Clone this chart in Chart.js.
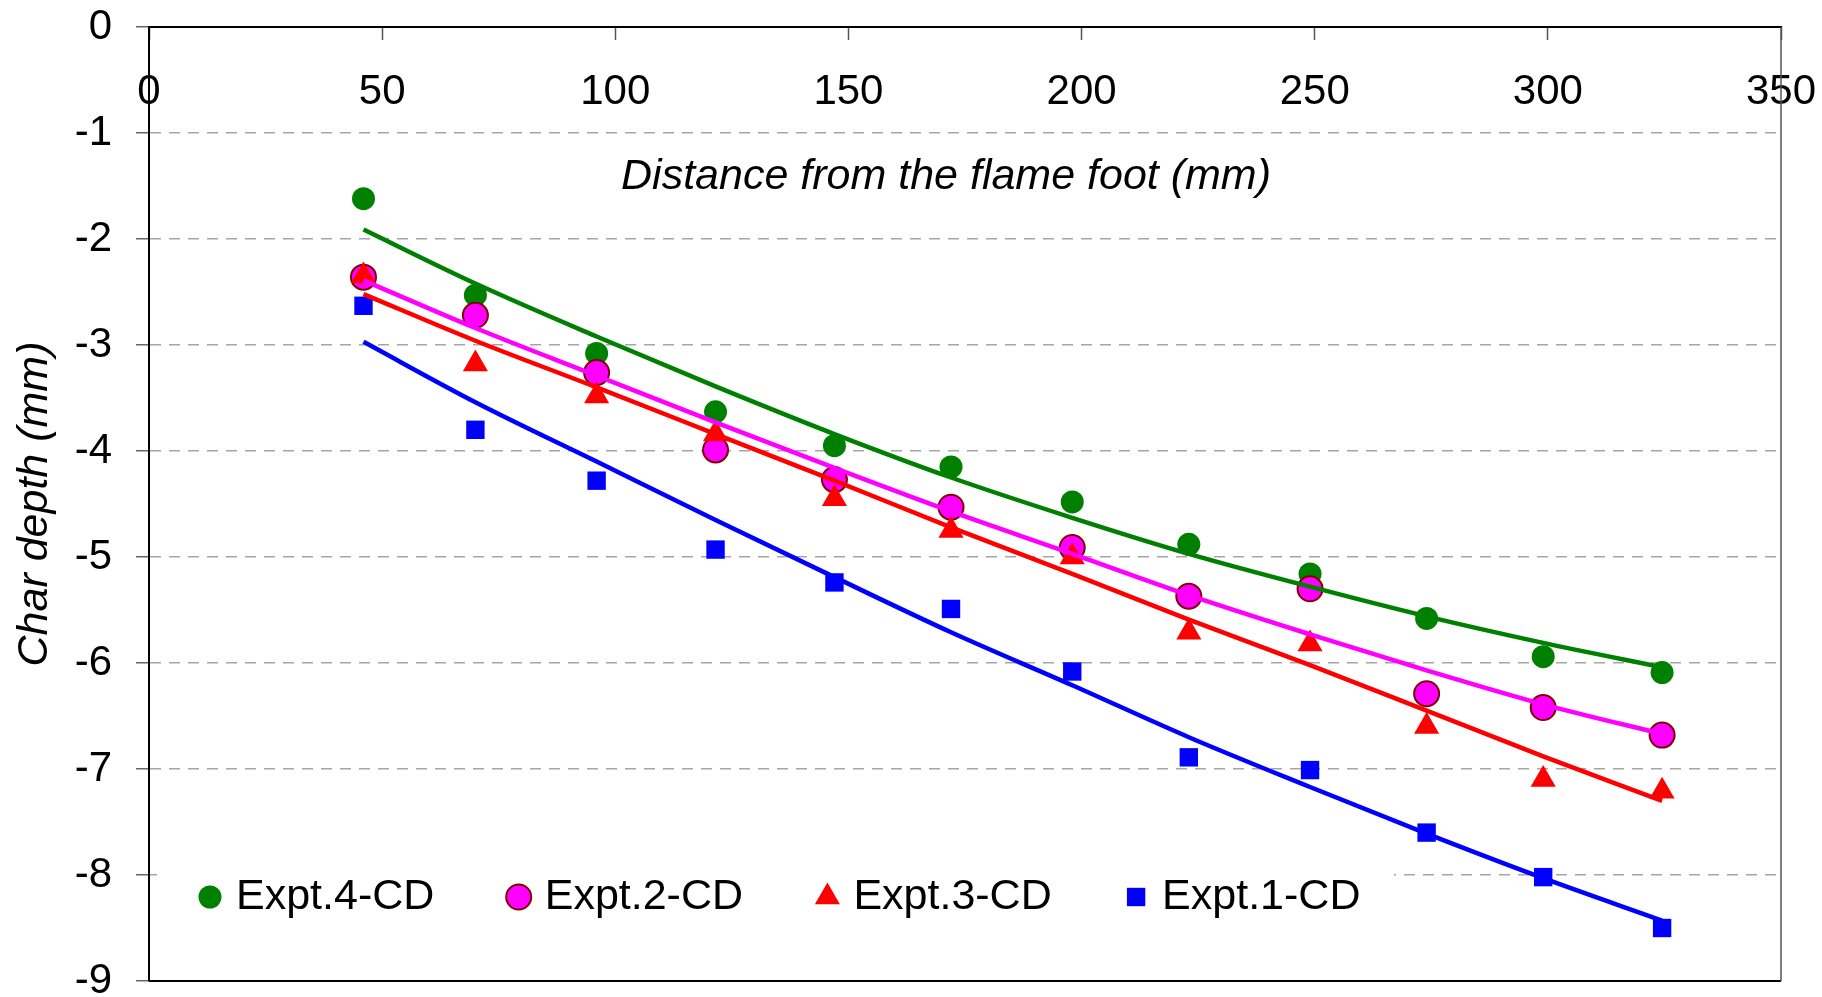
<!DOCTYPE html>
<html>
<head>
<meta charset="utf-8">
<title>Char depth</title>
<script src="https://cdn.jsdelivr.net/npm/chart.js@4.4.1/dist/chart.umd.min.js"></script>
<style>
  html, body { margin: 0; padding: 0; background: #fff; }
</style>
</head>
<body>
<canvas id="char-depth-chart" width="1822" height="997"></canvas>
<script>
// distance from the flame foot (mm)
const distance = [46, 70, 96, 121.5, 147, 172, 198, 223, 249, 274, 299, 324.5];

// measured char depth (mm)
const expt4 = [-1.62, -2.53, -3.08, -3.63, -3.95, -4.15, -4.48, -4.88, -5.16, -5.58, -5.94, -6.09];
const expt2 = [-2.36, -2.72, -3.26, -3.99, -4.27, -4.53, -4.91, -5.37, -5.30, -6.29, -6.42, -6.68];
const expt3 = [-2.35, -3.18, -3.48, -3.84, -4.45, -4.75, -5.00, -5.71, -5.82, -6.60, -7.10, -7.21];
const expt1 = [-2.63, -3.80, -4.28, -4.93, -5.24, -5.49, -6.08, -6.89, -7.01, -7.60, -8.02, -8.50];

// fitted trend lines at the same distances
const trend4 = [-1.91, -2.42, -2.92, -3.39, -3.84, -4.25, -4.63, -4.97, -5.28, -5.56, -5.81, -6.04];
const trend2 = [-2.39, -2.84, -3.29, -3.73, -4.16, -4.57, -4.97, -5.36, -5.73, -6.07, -6.39, -6.67];
const trend3 = [-2.52, -2.96, -3.40, -3.84, -4.28, -4.72, -5.16, -5.59, -6.02, -6.45, -6.88, -7.30];
const trend1 = [-2.97, -3.54, -4.10, -4.65, -5.19, -5.71, -6.21, -6.70, -7.17, -7.61, -8.03, -8.43];

const xTicks = [0, 50, 100, 150, 200, 250, 300, 350];
const yTicks = [0, -1, -2, -3, -4, -5, -6, -7, -8, -9];

const fontFamily = "'Liberation Sans', Arial, Helvetica, sans-serif";

function toPoints(values) {
    return distance.map((x, i) => ({ x: x, y: values[i] }));
}

function markerSet(label, values, style, order) {
    return Object.assign({
        label: label,
        data: toPoints(values),
        showLine: false,
        order: order
    }, style);
}

function trendSet(values, color) {
    return {
        label: '',
        data: toPoints(values),
        showLine: true,
        borderColor: color,
        borderWidth: 4.5,
        pointRadius: 0,
        cubicInterpolationMode: 'monotone',
        fill: false,
        order: 0
    };
}

// white box with the four entries, drawn inside the plot area
const insideLegend = {
    id: 'insideLegend',
    beforeDatasetsDraw(chart) {
        const { ctx, chartArea: a } = chart;
        const y = a.bottom - 84;
        ctx.save();
        ctx.fillStyle = '#fff';
        ctx.fillRect(a.left + 8, y - 44, 1237, 88);
        chart.data.datasets.filter(d => !d.showLine).forEach((d, i) => {
            const x = a.left + 61 + i * 308.7;
            ctx.fillStyle = d.backgroundColor;
            ctx.strokeStyle = d.borderColor;
            ctx.lineWidth = d.borderWidth;
            Chart.helpers.drawPoint(ctx, {
                pointStyle: d.pointStyle,
                radius: d.pointRadius,
                borderWidth: d.borderWidth,
                rotation: 0
            }, x, y);
            ctx.fillStyle = '#000';
            ctx.font = '43px ' + fontFamily;
            ctx.textAlign = 'left';
            ctx.textBaseline = 'middle';
            ctx.fillText(d.label, x + 26, y);
        });
        ctx.restore();
    }
};

// bottom and right edges of the plot area, plus the x axis title inside it
const frameAndTitle = {
    id: 'frameAndTitle',
    afterDraw(chart) {
        const { ctx, chartArea: a } = chart;
        ctx.save();
        ctx.lineWidth = 2;
        ctx.strokeStyle = '#000';
        ctx.beginPath();
        ctx.moveTo(a.left, a.bottom);
        ctx.lineTo(a.right, a.bottom);
        ctx.stroke();
        ctx.strokeStyle = '#555';
        ctx.lineWidth = 1.5;
        ctx.beginPath();
        ctx.moveTo(a.right, a.top);
        ctx.lineTo(a.right, a.bottom);
        ctx.stroke();

        ctx.fillStyle = '#000';
        ctx.font = 'italic 43px ' + fontFamily;
        ctx.textAlign = 'center';
        ctx.textBaseline = 'middle';
        ctx.fillText('Distance from the flame foot (mm)', (a.left + a.right) / 2 - 19, a.top + 150);
        ctx.restore();
    }
};

const ctx = document.getElementById('char-depth-chart').getContext('2d');
new Chart(ctx, {
    type: 'scatter',
    data: {
        datasets: [
            markerSet('Expt.4-CD', expt4, {
                pointStyle: 'circle', pointRadius: 11.5,
                backgroundColor: '#008000', borderColor: '#008000', borderWidth: 0
            }, 7),
            markerSet('Expt.2-CD', expt2, {
                pointStyle: 'circle', pointRadius: 12.5,
                backgroundColor: '#ff00ff', borderColor: '#800000', borderWidth: 2
            }, 6),
            markerSet('Expt.3-CD', expt3, {
                pointStyle: 'triangle', pointRadius: 14.5,
                backgroundColor: '#ff0000', borderColor: '#ff0000', borderWidth: 0
            }, 5),
            markerSet('Expt.1-CD', expt1, {
                pointStyle: 'rect', pointRadius: 13,
                backgroundColor: '#0000ff', borderColor: '#0000ff', borderWidth: 0
            }, 4),
            trendSet(trend4, '#008000'),
            trendSet(trend2, '#ff00ff'),
            trendSet(trend3, '#ff0000'),
            trendSet(trend1, '#0000ff')
        ]
    },
    options: {
        responsive: false,
        animation: false,
        events: [],
        layout: { padding: { left: 0, top: 0, right: 41, bottom: 16 } },
        plugins: {
            legend: { display: false },
            tooltip: { enabled: false }
        },
        scales: {
            x: {
                type: 'linear',
                position: 'top',
                min: 0,
                max: 350,
                afterBuildTicks: scale => { scale.ticks = xTicks.map(v => ({ value: v })); },
                ticks: {
                    mirror: true,
                    padding: 40,
                    maxRotation: 0,
                    autoSkip: false,
                    color: '#000',
                    font: { family: fontFamily, size: 42 }
                },
                grid: {
                    drawOnChartArea: false,
                    drawTicks: true,
                    tickLength: -13,
                    tickColor: '#555',
                    tickWidth: 1.5
                },
                border: { display: true, color: '#000', width: 2 },
                afterFit: scale => {
                    scale.height = 27;
                    scale.paddingLeft = 0;
                    scale.paddingRight = 0;
                }
            },
            y: {
                type: 'linear',
                position: 'left',
                min: -9,
                max: 0,
                afterBuildTicks: scale => { scale.ticks = yTicks.map(v => ({ value: v })); },
                ticks: {
                    padding: 24,
                    color: '#000',
                    font: { family: fontFamily, size: 42 }
                },
                grid: {
                    color: c => (c.tick && (c.tick.value === 0 || c.tick.value === -9)) ? 'rgba(0,0,0,0)' : '#a6a6a6',
                    lineWidth: 1.5,
                    tickLength: 13,
                    tickColor: '#666',
                    tickWidth: 1.5
                },
                border: { display: true, color: '#000', width: 2, dash: [11, 8] },
                title: {
                    display: true,
                    text: 'Char depth (mm)',
                    color: '#000',
                    font: { family: fontFamily, size: 43, style: 'italic' },
                    padding: { top: 9, bottom: 0 }
                },
                afterFit: scale => {
                    scale.width = 149;
                    scale.paddingTop = 0;
                    scale.paddingBottom = 0;
                }
            }
        }
    },
    plugins: [insideLegend, frameAndTitle]
});
</script>
</body>
</html>
